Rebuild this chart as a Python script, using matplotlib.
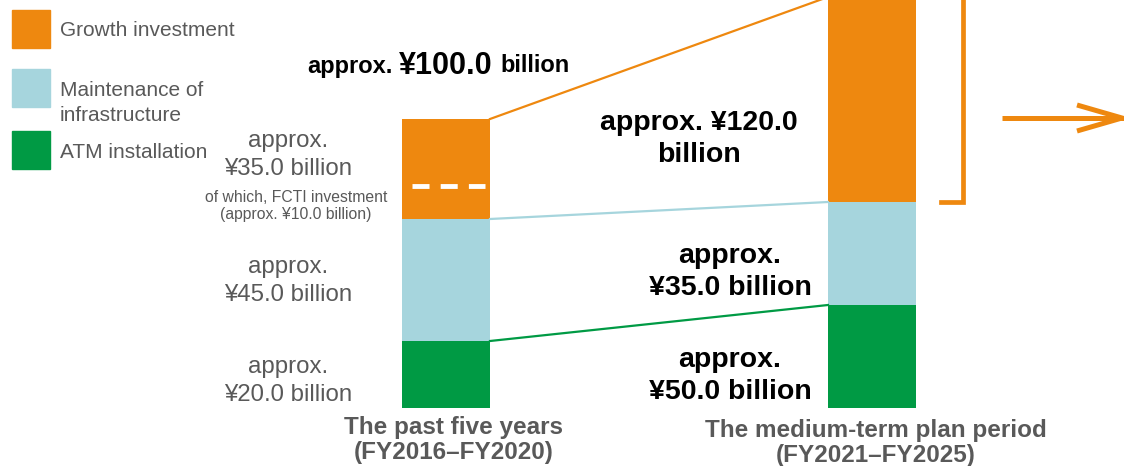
import numpy as np
import matplotlib
matplotlib.use("Agg")
import matplotlib.pyplot as plt
from matplotlib.patches import Rectangle

plt.rcParams['font.family'] = ['Liberation Sans', 'DejaVu Sans']

# data (segment heights as drawn, bottom to top: ATM, maintenance, growth)
categories = ['ATM installation', 'Maintenance of\ninfrastructure', 'Growth investment']
past_heights = [67, 122, 100]
plan_heights = [103, 103, 205]
fcti_height = 33  # FCTI part inside past growth segment
past_labels = ['approx.\n¥20.0 billion', 'approx.\n¥45.0 billion', 'approx.\n¥35.0 billion']
plan_labels = ['approx.\n¥50.0 billion', 'approx.\n¥35.0 billion', 'approx. ¥120.0\nbillion']
period_labels = ['The past five years\n(FY2016–FY2020)',
                 'The medium-term plan period\n(FY2021–FY2025)']

colors = ['#009A44', '#A6D5DD', '#EE880F']
grey = '#595959'
orange = colors[2]

fig = plt.figure(figsize=(11.24, 4.66), dpi=100)
ax = fig.add_axes([0, 0, 1, 1])
ax.set_xlim(0, 1124)
ax.set_ylim(-58, 408)
ax.axis('off')

x_past, x_plan, w = 446, 872, 88

# stacked bars
past_bottom = np.concatenate([[0], np.cumsum(past_heights)[:-1]])
plan_bottom = np.concatenate([[0], np.cumsum(plan_heights)[:-1]])
ax.bar(x_past, past_heights, w, bottom=past_bottom, color=colors)
ax.bar(x_plan, plan_heights, w, bottom=plan_bottom, color=colors)

# connectors between segment tops
past_top = np.cumsum(past_heights)
plan_top = np.cumsum(plan_heights)
for i in range(3):
    ax.plot([x_past + w / 2, x_plan - w / 2], [past_top[i], plan_top[i]],
            color=colors[i], lw=1.6, zorder=1)

# FCTI dashed line
yf = past_bottom[2] + fcti_height
ax.plot([x_past - 34, x_past + 39], [yf, yf], color='white', lw=3.5,
        dashes=(3.5, 2.3), solid_capstyle='butt', dash_capstyle='butt')

# bracket
ax.plot([941, 963, 963, 941], [plan_top[2], plan_top[2], plan_bottom[2], plan_bottom[2]],
        color=orange, lw=3.4, solid_joinstyle='miter', clip_on=False)

# arrow
ay = 408 - 118
ax.plot([1002, 1124], [ay, ay], color=orange, lw=3.6, solid_capstyle='butt')
ax.plot([1077, 1122, 1077], [ay + 13, ay, ay - 13], color=orange, lw=3.6,
        solid_joinstyle='miter', solid_capstyle='butt')

# legend
box_y = [408 - 150, 408 - 88, 408 - 29]
text_y = [408 - 152, 408 - 103, 408 - 31]
for i in range(3):
    ax.add_patch(Rectangle((12, box_y[i] - 19), 38, 38, color=colors[i]))
    ax.text(60, text_y[i], categories[i], fontsize=15, color=grey,
            va='center', ha='left', linespacing=1.38)

# past labels
past_y = [408 - 381, 408 - 281, 408 - 155]
for i in range(3):
    ax.text(288, past_y[i], past_labels[i], fontsize=17.3, color=grey,
            ha='center', va='center', linespacing=1.34)
ax.text(296, 408 - 206, 'of which, FCTI investment\n(approx. ¥10.0 billion)',
        fontsize=11.3, color=grey, ha='center', va='center', linespacing=1.15)

# plan labels
plan_y = [408 - 376, 408 - 272, 408 - 139]
plan_x = [730, 730, 699]
plan_ls = [1.34, 1.34, 1.26]
for i in range(3):
    ax.text(plan_x[i], plan_y[i], plan_labels[i], fontsize=20.5, color='black',
            fontweight='bold', ha='center', va='center', linespacing=plan_ls[i])

# approx. 100.0 billion (mixed sizes)
ty = 408 - 66
ax.text(307, ty, 'approx.', fontsize=17, fontweight='bold', ha='left', va='center')
ax.text(399, ty, '¥100.0', fontsize=22, fontweight='bold', ha='left', va='center')
ax.text(500, ty, 'billion', fontsize=17, fontweight='bold', ha='left', va='center')

# period labels
ax.text(454, 408 - 440, period_labels[0], fontsize=17.5, color=grey, fontweight='bold',
        ha='center', va='center', linespacing=1.15)
ax.text(876, 408 - 443, period_labels[1], fontsize=17.5, color=grey, fontweight='bold',
        ha='center', va='center', linespacing=1.15)

fig.savefig('out.png', dpi=100)
